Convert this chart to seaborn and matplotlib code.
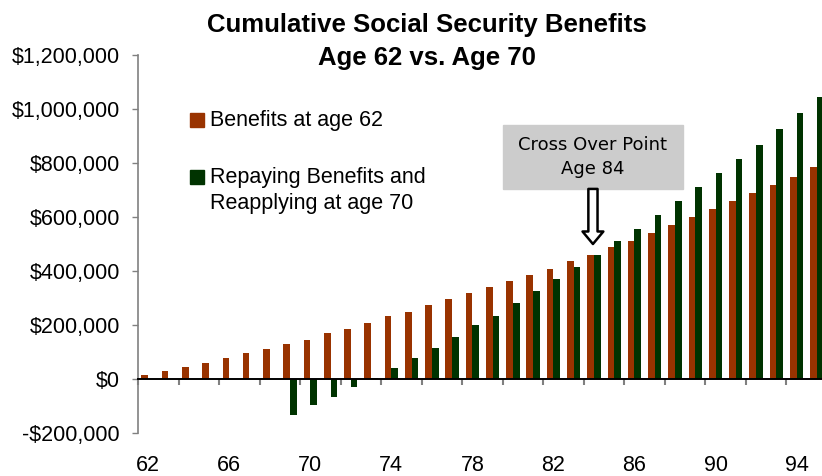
"""
Cumulative Social Security benefits, age 62 vs age 70
"""

#Packages:
import seaborn as sns
import matplotlib.pyplot as plt
import matplotlib.patches as mpatches
from matplotlib.ticker import FuncFormatter
import pandas as pd

#-----------------------------------
#Data:
ages = list(range(62, 96))

benefits_62 = [13000, 28000, 43000, 58000, 79000, 98000, 112000, 131000, 146000, 171000,
               186000, 206000, 232000, 250000, 275000, 297000, 320000, 342000, 364000, 386000,
               409000, 438000, 460000, 490000, 512000, 542000, 572000, 601000, 631000, 660000,
               690000, 720000, 749000, 786000]

benefits_70 = [0, 0, 0, 0, 0, 0, 0, -135000, -97000, -68000,
               -31000, 5000, 42000, 79000, 116000, 157000, 201000, 234000, 283000, 327000,
               372000, 416000, 460000, 512000, 557000, 609000, 660000, 712000, 764000, 816000,
               868000, 927000, 986000, 1046000]

label_62 = 'Benefits at age 62'
label_70 = 'Repaying Benefits and\nReapplying at age 70'
colors = {label_62: '#993300', label_70: '#003300'}

x_labels = [str(a) for a in ages]

df = pd.DataFrame({
    'age': x_labels * 2,
    'value': benefits_62 + benefits_70,
    'series': [label_62] * len(ages) + [label_70] * len(ages),
})

#-----------------------------------
#Plot:
sns.set_style('white')
plt.rcParams['font.family'] = ['Liberation Sans', 'DejaVu Sans']
plt.rcParams['text.color'] = 'black'
plt.rcParams['xtick.labelcolor'] = 'black'
plt.rcParams['ytick.labelcolor'] = 'black'

W, H = 822, 476
fig = plt.figure(figsize=(W / 100, H / 100), dpi=100)
ax = fig.add_axes([138 / W, 43 / H, 689 / W, 378 / H])

sns.barplot(data=df, x='age', y='value', hue='series', hue_order=[label_62, label_70],
            palette=colors, width=0.66, errorbar=None, legend=False, saturation=1,
            linewidth=0, edgecolor='none', ax=ax)

ax.set_xlim(-0.5, len(ages) - 0.5)
ax.set_ylim(-200000, 1200000)
ax.set_xlabel('')
ax.set_ylabel('')

# y axis
ax.set_yticks(range(-200000, 1200001, 200000))
ax.yaxis.set_major_formatter(FuncFormatter(
    lambda v, p: ('-$' if v < 0 else '$') + f'{abs(v):,.0f}'))
ax.tick_params(axis='y', direction='out', length=4, width=1, color='#808080',
               labelsize=15.5, pad=9, left=True)

# x axis sits on zero, labels at the bottom
ax.spines['bottom'].set_position(('data', 0))
ax.spines['bottom'].set_color('black')
ax.spines['bottom'].set_linewidth(1.4)
ax.spines['left'].set_color('#808080')
ax.spines['left'].set_linewidth(1.2)
ax.spines['top'].set_visible(False)
ax.spines['right'].set_visible(False)

ax.set_xticks(range(0, len(ages), 4))
ax.set_xticklabels(x_labels[::4])
ax.set_xticks([i - 0.5 for i in range(0, len(ages) + 1, 2)], minor=True)
ax.tick_params(axis='x', which='major', length=0, labelsize=15.5, pad=55, bottom=True)
ax.tick_params(axis='x', which='minor', direction='out', length=4, width=1.5,
               color='#808080', bottom=True)

# title
fig.text(427 / W, 1 - 25 / H, 'Cumulative Social Security Benefits', ha='center',
         va='center', fontsize=18.5, fontweight='bold')
fig.text(427 / W, 1 - 58 / H, 'Age 62 vs. Age 70', ha='center', va='center',
         fontsize=18.5, fontweight='bold')

# legend drawn by hand
for (ypx, label) in [(120, label_62), (177, label_70)]:
    fig.patches.append(mpatches.Rectangle((190 / W, 1 - (ypx + 7) / H), 14 / W, 14 / H,
                                          transform=fig.transFigure,
                                          color=colors[label]))
    fig.text(210 / W, 1 - (ypx - 10) / H, label, ha='left', va='top', fontsize=15.5,
             linespacing=1.3)

# cross over box + arrow
ax.add_patch(mpatches.Rectangle((17.51, 704000), 8.88, 237000, color='#cccccc', zorder=3))
ax.text(21.95, 822000, 'Cross Over Point\nAge 84', ha='center', va='center',
        fontsize=13, family='DejaVu Sans', linespacing=1.45, zorder=4)
ax.annotate('', xy=(21.95, 500000), xytext=(21.95, 704000),
            arrowprops=dict(arrowstyle='simple,head_length=0.45,head_width=0.75,tail_width=0.33',
                            mutation_scale=20, fc='white', ec='black', lw=1.8,
                            shrinkA=0, shrinkB=0), zorder=4)

fig.savefig('out.png', dpi=100)
